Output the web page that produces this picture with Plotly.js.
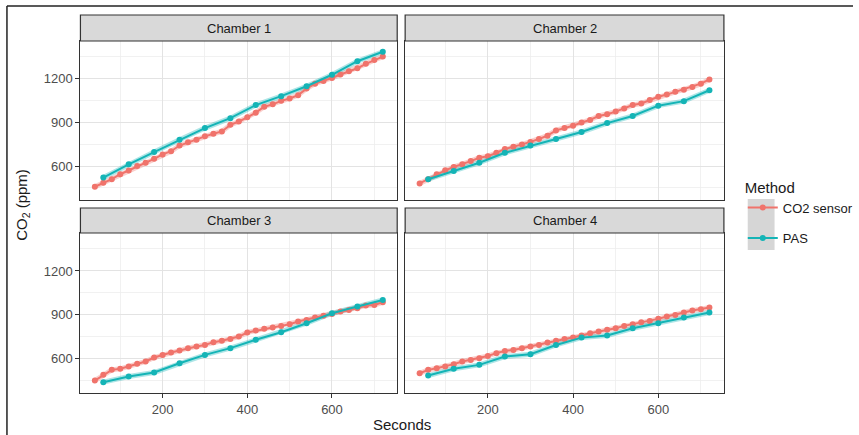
<!DOCTYPE html>
<html>
<head>
<meta charset="utf-8">
<script src="https://cdn.plot.ly/plotly-3.0.1.min.js"></script>
<style>html,body{margin:0;padding:0;background:#fff;}#chart{width:859px;height:435px;}</style>
</head>
<body>
<div id="chart"></div>
<script>
// ---- data ----
const chambers = ["Chamber 1", "Chamber 2", "Chamber 3", "Chamber 4"];
const methods = ["CO2 sensor", "PAS"];
const secondsSensor = [40,60,80,100,120,140,160,180,200,220,240,260,280,300,320,340,360,380,400,420,440,460,480,500,520,540,560,580,600,620,640,660,680,700,720];
const secondsPAS = [60,120,180,240,300,360,420,480,540,600,660,720];

const sensorC1 = [458,485,510,544,570,600,623,650,680,702,741,763,781,804,822,838,883,906,935,967,1008,1024,1048,1064,1087,1132,1166,1184,1205,1229,1252,1272,1302,1329,1352];
const pasC1 = [521,612,696,781,861,929,1019,1080,1148,1227,1320,1385];

const sensorC2 = [481,510,544,571,594,612,634,657,668,691,718,732,748,766,786,809,845,861,877,899,917,944,956,974,996,1019,1030,1053,1076,1091,1110,1125,1143,1166,1195];
const pasC2 = [510,567,623,691,741,786,834,895,944,1015,1046,1121];

const sensorC3 = [452,491,525,532,548,566,582,609,627,643,657,673,684,695,714,723,736,752,780,793,805,814,825,836,855,866,882,895,907,923,934,945,964,968,986];
const pasC3 = [441,480,507,570,627,673,730,782,843,911,957,1002];

const sensorC4 = [502,525,536,548,564,582,593,604,620,639,654,661,673,684,695,711,723,736,745,759,775,786,798,809,825,836,850,859,873,889,900,916,930,939,950];
const pasC4 = [486,532,559,616,632,695,745,759,809,843,882,916];

const xTicks = [200, 400, 600];
const yTicks = [600, 900, 1200];

// ---- styling / layout ----
const W = 859, H = 435;
const RED = "#F0736B", TEAL = "#14B4B6";
const sensorSeries = [sensorC1, sensorC2, sensorC3, sensorC4];
const pasSeries = [pasC1, pasC2, pasC3, pasC4];

const px = v => v / W;
const py = v => 1 - v / H;

// panel boxes in pixels: [x0, x1, yTop, yBottom, stripTop]
const panels = [
  [81, 400, 41, 200, 15],
  [408, 729, 41, 200, 15],
  [81, 400, 233, 393, 208],
  [408, 729, 233, 393, 208]
];

const traces = [];
panels.forEach((p, i) => {
  const ax = i === 0 ? "" : String(i + 1);
  const common = {xaxis: "x" + ax, yaxis: "y" + ax, type: "scatter", mode: "lines+markers", hoverinfo: "x+y+name"};
  // halo lines
  traces.push(Object.assign({}, common, {x: secondsSensor, y: sensorSeries[i], mode: "lines", line: {color: RED, width: 5}, opacity: 0.35, showlegend: false, hoverinfo: "skip"}));
  traces.push(Object.assign({}, common, {x: secondsPAS, y: pasSeries[i], mode: "lines", line: {color: TEAL, width: 5}, opacity: 0.35, showlegend: false, hoverinfo: "skip"}));
  traces.push(Object.assign({}, common, {
    x: secondsSensor, y: sensorSeries[i], name: methods[0],
    line: {color: RED, width: 2}, marker: {color: RED, size: 6},
    showlegend: i === 0, legend: "legend", legendgroup: "s"
  }));
  traces.push(Object.assign({}, common, {
    x: secondsPAS, y: pasSeries[i], name: methods[1],
    line: {color: TEAL, width: 2}, marker: {color: TEAL, size: 6},
    showlegend: i === 0, legend: "legend2", legendgroup: "p"
  }));
});

const layout = {
  width: W, height: H,
  margin: {l: 0, r: 0, t: 0, b: 0},
  paper_bgcolor: "#fff", plot_bgcolor: "#fff",
  font: {family: "Liberation Sans, Arial, sans-serif", color: "#4d4d4d", size: 13},
  shapes: [], annotations: [],
  legend: {
    x: px(748), y: py(173), xanchor: "left", yanchor: "top",
    bgcolor: "rgba(0,0,0,0)", borderwidth: 0,
    title: {text: "Method", font: {size: 15, color: "#1a1a1a"}},
    font: {size: 13, color: "#1a1a1a"}, itemwidth: 30, tracegroupgap: 0
  },
  legend2: {
    x: px(748), y: py(223), xanchor: "left", yanchor: "top",
    bgcolor: "rgba(0,0,0,0)", borderwidth: 0,
    font: {size: 13, color: "#1a1a1a"}, itemwidth: 30, tracegroupgap: 0
  }
};

panels.forEach((p, i) => {
  const ax = i === 0 ? "" : String(i + 1);
  const bottomRow = i >= 2, leftCol = (i % 2 === 0);
  layout["xaxis" + ax] = {
    domain: [px(p[0]), px(p[1])], anchor: "y" + ax, range: [6, 754],
    tickvals: xTicks, ticktext: xTicks.map(String),
    showticklabels: bottomRow, ticks: bottomRow ? "outside" : "", ticklen: 4, tickcolor: "#333",
    showgrid: true, gridcolor: "#e3e3e3", gridwidth: 1,
    minor: {dtick: 100, tick0: 0, showgrid: true, gridcolor: "#eeeeee", gridwidth: 0.8},
    showline: true, mirror: true, linecolor: "#333", linewidth: 1.2,
    zeroline: false, tickfont: {size: 13, color: "#4d4d4d"}, fixedrange: true
  };
  layout["yaxis" + ax] = {
    domain: [py(p[3]), py(p[2])], anchor: "x" + ax, range: [367, 1459],
    tickvals: yTicks, ticktext: yTicks.map(String),
    showticklabels: leftCol, ticks: leftCol ? "outside" : "", ticklen: 4, tickcolor: "#333",
    showgrid: true, gridcolor: "#e3e3e3", gridwidth: 1,
    minor: {dtick: 150, tick0: 0, showgrid: true, gridcolor: "#eeeeee", gridwidth: 0.8},
    showline: true, mirror: true, linecolor: "#333", linewidth: 1.2,
    zeroline: false, tickfont: {size: 13, color: "#4d4d4d"}, fixedrange: true
  };
  // strip
  layout.shapes.push({type: "rect", xref: "paper", yref: "paper",
    x0: px(p[0]), x1: px(p[1]), y0: py(p[2]), y1: py(p[4]),
    fillcolor: "#d9d9d9", line: {color: "#333", width: 1.2}, layer: "above"});
  layout.annotations.push({xref: "paper", yref: "paper",
    x: px((p[0] + p[1]) / 2), y: py((p[2] + p[4]) / 2), xanchor: "center", yanchor: "middle",
    text: chambers[i], showarrow: false, font: {size: 13, color: "#1a1a1a"}});
});

// legend key background
layout.shapes.push({type: "rect", xref: "paper", yref: "paper",
  x0: px(753), x1: px(780), y0: py(250), y1: py(199),
  fillcolor: "#d6d6d6", line: {width: 0}, layer: "below"});
// outer frame lines (top and left)
layout.shapes.push({type: "line", xref: "paper", yref: "paper", x0: px(7), x1: 1, y0: py(6), y1: py(6), line: {color: "#222", width: 1.5}});
layout.shapes.push({type: "line", xref: "paper", yref: "paper", x0: px(7), x1: px(7), y0: py(6), y1: 0, line: {color: "#222", width: 1.5}});

// axis titles
layout.annotations.push({xref: "paper", yref: "paper", x: px(405), y: py(424), xanchor: "center", yanchor: "middle",
  text: "Seconds", showarrow: false, font: {size: 15, color: "#1a1a1a"}});
layout.annotations.push({xref: "paper", yref: "paper", x: px(22), y: py(205), xanchor: "center", yanchor: "middle",
  text: "CO<sub>2</sub> (ppm)", textangle: -90, showarrow: false, font: {size: 15, color: "#1a1a1a"}});

Plotly.newPlot("chart", traces, layout, {displayModeBar: false, staticPlot: true});
</script>
</body>
</html>
